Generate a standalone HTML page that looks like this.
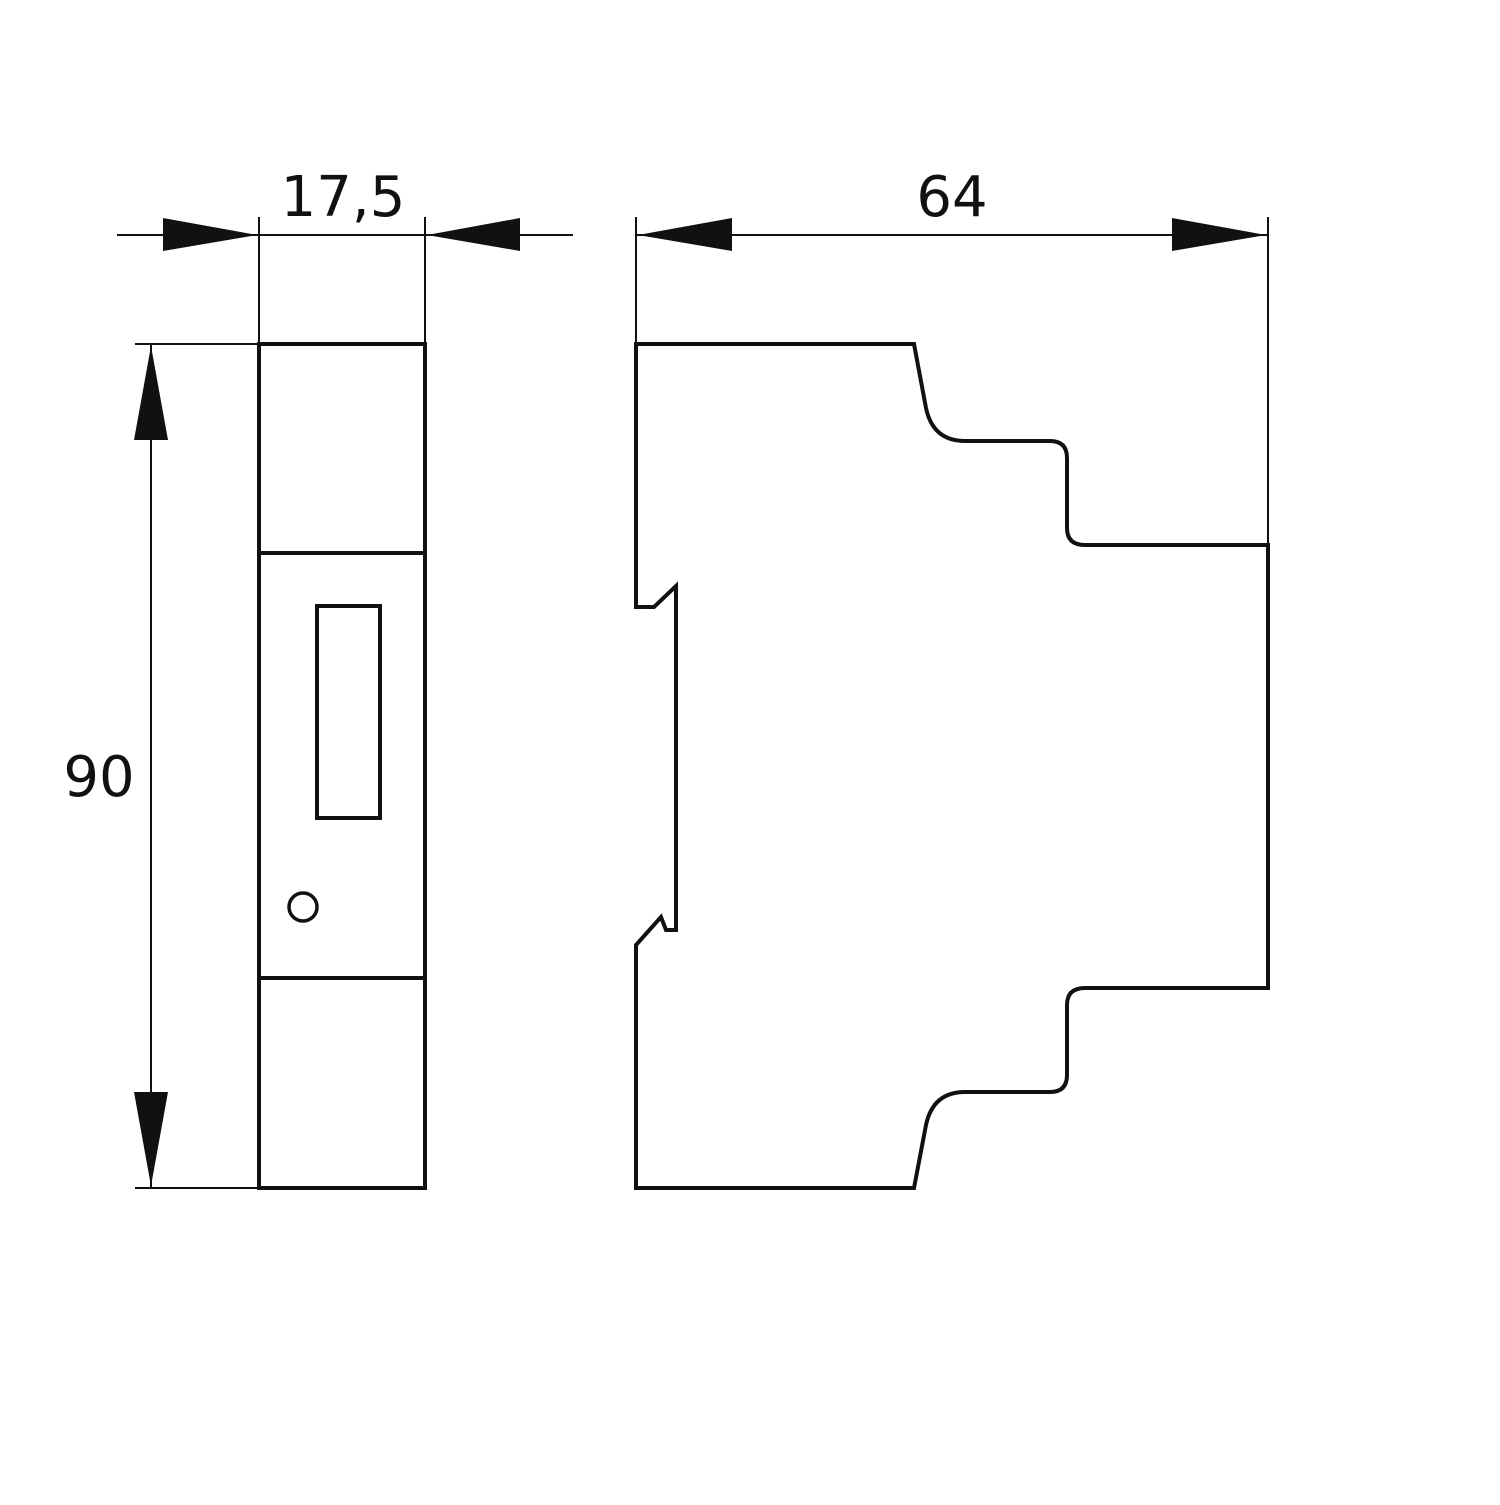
<!DOCTYPE html>
<html><head><style>html,body{margin:0;padding:0;background:#fff}</style></head>
<body>
<svg width="1500" height="1500" viewBox="0 0 1500 1500" xmlns="http://www.w3.org/2000/svg">
<rect width="1500" height="1500" fill="#fff"/>
<g stroke="#111" fill="none">
  <line x1="117" y1="235" x2="573" y2="235" stroke-width="2"/>
  <line x1="259" y1="217" x2="259" y2="344" stroke-width="2"/>
  <line x1="425" y1="217" x2="425" y2="344" stroke-width="2"/>
  <line x1="636" y1="235" x2="1268" y2="235" stroke-width="2"/>
  <line x1="636" y1="217" x2="636" y2="344" stroke-width="2"/>
  <line x1="1268" y1="217" x2="1268" y2="545" stroke-width="2"/>
  <line x1="151" y1="344" x2="151" y2="1188" stroke-width="2"/>
  <line x1="135" y1="344" x2="259" y2="344" stroke-width="2"/>
  <line x1="135" y1="1188" x2="259" y2="1188" stroke-width="2"/>
  <rect x="259" y="344" width="166" height="844" stroke-width="4"/>
  <line x1="259" y1="553" x2="425" y2="553" stroke-width="4"/>
  <line x1="259" y1="978" x2="425" y2="978" stroke-width="4"/>
  <rect x="317" y="606" width="63" height="212" stroke-width="4"/>
  <circle cx="303" cy="907" r="14" stroke-width="3.5"/>
  <path stroke-width="4" stroke-linejoin="miter" d="M636,344 L914,344 L926,408 Q933,441 965,441 L1050,441 Q1067,441 1067,458 L1067,528 Q1067,545 1085,545 L1268,545 L1268,988 L1085,988 Q1067,988 1067,1005 L1067,1075 Q1067,1092 1050,1092 L965,1092 Q933,1092 926,1125 L914,1188 L636,1188 L636,945 L661,917 L666,930 L676,930 L676,586 L654,607 L636,607 Z"/>
</g>
<g fill="#111">
  <polygon points="163,218 163,251 257,235"/>
  <polygon points="520,218 520,251 427,235"/>
  <polygon points="732,218 732,251 638,235"/>
  <polygon points="1172,218 1172,251 1266,235"/>
  <polygon points="134,440 168,440 151,346"/>
  <polygon points="134,1092 168,1092 151,1186"/>
</g>
<g font-family="'DejaVu Sans','Liberation Sans',sans-serif" font-size="56" fill="#111" text-anchor="middle">
  <text x="343" y="216">17,5</text>
  <text x="952" y="216">64</text>
  <text x="99" y="796">90</text>
</g>
</svg>
</body></html>
